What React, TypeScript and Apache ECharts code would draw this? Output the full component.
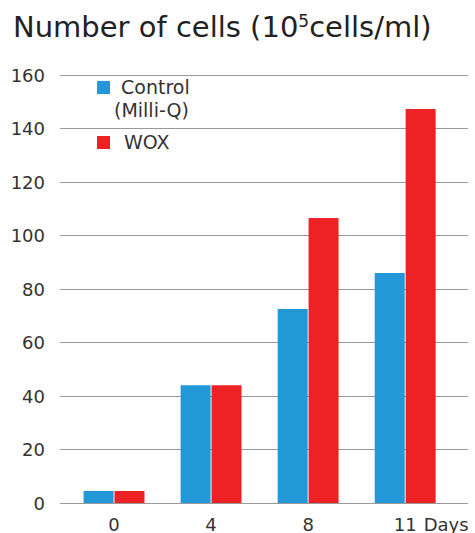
import React, { useEffect, useRef } from "react";
import * as echarts from "echarts";

const categories = ["0", "4", "8", "11"];
const controlValues = [4.5, 44, 72.5, 86];
const woxValues = [4.5, 44, 106.5, 147.3];
const yTicks = { min: 0, max: 160, interval: 20 };
const seriesNames = ["Control (Milli-Q)", "WOX"];
const colors = ["#2298d6", "#ee2225"];
const FONT = "DejaVu Sans, Verdana, sans-serif";

export default function App() {
  const ref = useRef<HTMLDivElement>(null);
  useEffect(() => {
    const chart = echarts.init(ref.current!, null, { renderer: "svg" });
    const gridTop = 75;
    const gridBottom = 30;
    chart.setOption({
      animation: false,
      backgroundColor: "#fff",
      title: {
        text: "Number of cells (10{sup|5}cells/ml)",
        left: 8,
        top: 7,
        textStyle: {
          fontFamily: FONT,
          fontSize: 29,
          fontWeight: "normal",
          color: "#222",
          rich: {
            sup: { fontFamily: FONT, fontSize: 17, color: "#222", padding: [0, 0, 13, 0] },
          },
        },
      },
      grid: [
        { left: 60, right: 7, top: gridTop, bottom: gridBottom, outerBoundsMode: "none", containLabel: false },
        { left: 65.5, right: 21.3, top: gridTop, bottom: gridBottom, outerBoundsMode: "none", containLabel: false },
      ],
      xAxis: [
        { type: "category", gridIndex: 0, data: categories, show: false },
        {
          type: "category",
          gridIndex: 1,
          data: categories,
          axisLine: { show: false },
          axisTick: { show: false },
          axisLabel: { fontFamily: FONT, fontSize: 18, color: "#333", margin: 12 },
          name: "Days",
          nameLocation: "end",
          nameGap: -30,
          nameTextStyle: {
            fontFamily: FONT,
            fontSize: 18,
            color: "#333",
            verticalAlign: "top",
            padding: [12, 0, 0, 0],
          },
        },
      ],
      yAxis: [
        {
          type: "value",
          gridIndex: 0,
          ...yTicks,
          axisLine: { show: false },
          axisTick: { show: false },
          axisLabel: { fontFamily: FONT, fontSize: 18, color: "#333", margin: 15 },
          splitLine: { lineStyle: { color: "#999", width: 1 } },
        },
        { type: "value", gridIndex: 1, ...yTicks, show: false },
      ],
      series: [
        {
          name: seriesNames[0],
          type: "bar",
          xAxisIndex: 1,
          yAxisIndex: 1,
          data: controlValues,
          barWidth: 30,
          barGap: "3%",
          itemStyle: { color: colors[0] },
        },
        {
          name: seriesNames[1],
          type: "bar",
          xAxisIndex: 1,
          yAxisIndex: 1,
          data: woxValues,
          barWidth: 30,
          barGap: "3%",
          itemStyle: { color: colors[1] },
        },
      ],
      graphic: [
        { type: "rect", shape: { x: 97, y: 81, width: 13, height: 13 }, style: { fill: colors[0] } },
        {
          type: "text",
          style: { x: 121, y: 87, text: "Control", font: `19px ${FONT}`, fill: "#333", verticalAlign: "middle" },
        },
        {
          type: "text",
          style: { x: 114, y: 110, text: "(Milli-Q)", font: `19px ${FONT}`, fill: "#333", verticalAlign: "middle" },
        },
        { type: "rect", shape: { x: 97, y: 136, width: 13, height: 13 }, style: { fill: colors[1] } },
        {
          type: "text",
          style: { x: 124, y: 142, text: "WOX", font: `19px ${FONT}`, fill: "#333", verticalAlign: "middle" },
        },
      ],
    });
    return () => chart.dispose();
  }, []);
  return <div ref={ref} style={{ width: 475, height: 533, position: "absolute", left: 0, top: 0 }} />;
}
